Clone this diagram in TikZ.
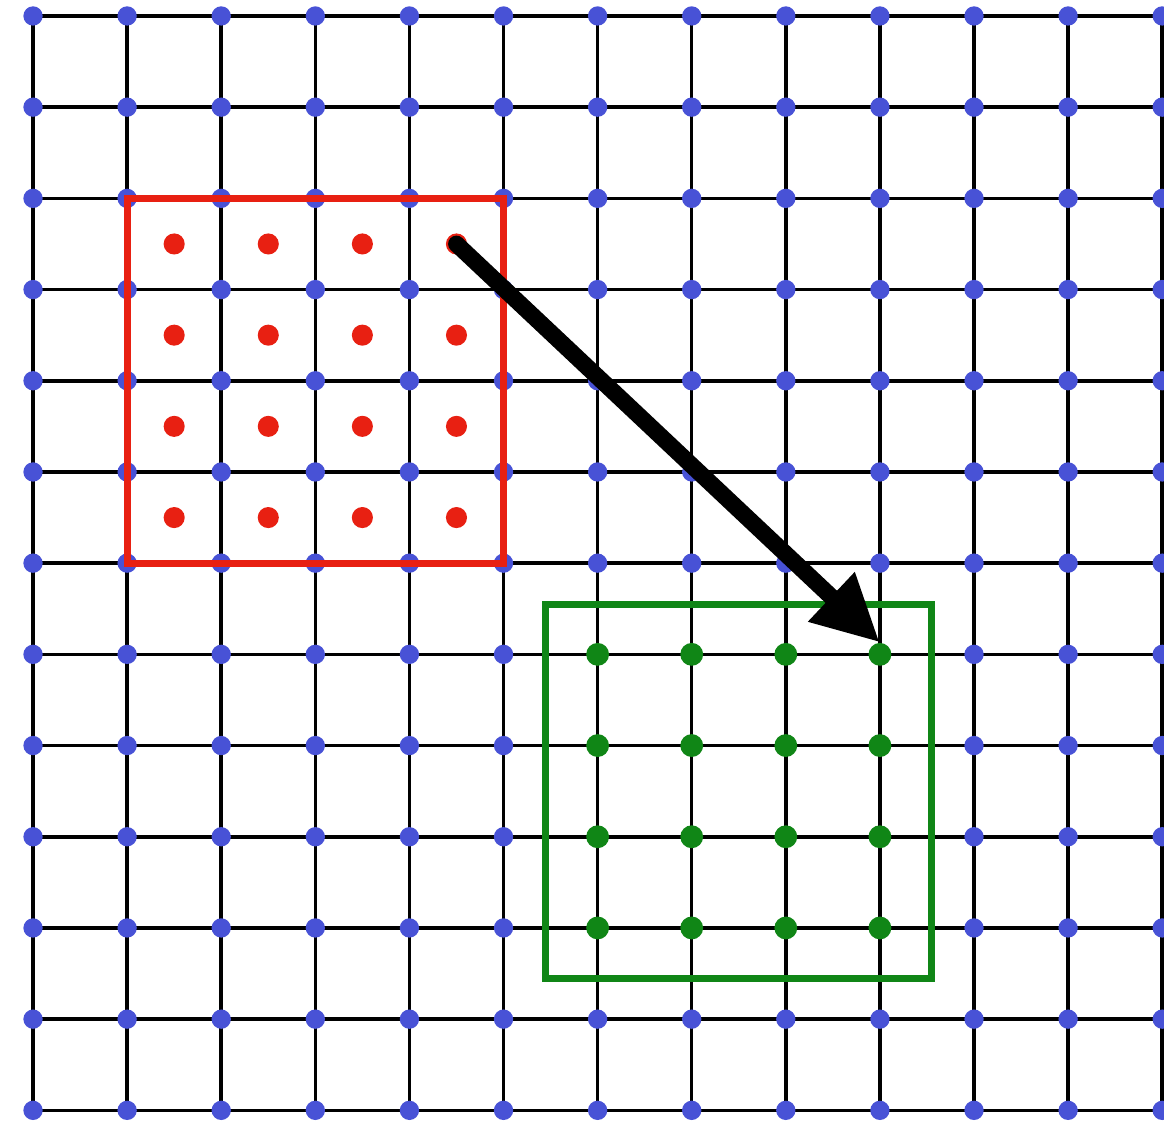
\documentclass[tikz,border=0pt]{standalone}
\usetikzlibrary{arrows.meta}

\definecolor{dotblue}{RGB}{72,82,214}
\definecolor{boxred}{RGB}{232,32,18}
\definecolor{boxgreen}{RGB}{16,134,22}

\tikzset{
  gridline/.style={line width=2pt, black},
  reddot/.style={circle, fill=boxred, inner sep=0pt, minimum size=12pt},
  greendot/.style={circle, fill=boxgreen, inner sep=0pt, minimum size=13pt},
}

\begin{document}
\begin{tikzpicture}[x=1.882cm, y=-1.824cm]

  % --- 1. frame ---
  \useasboundingbox (-0.351,-0.175) rectangle (12.019,12.171);
  \clip (-0.351,-0.175) rectangle (12.019,12.171);

  % --- 2. grid lines and lattice points ---
  \foreach \k in {0,...,12} {
    \draw[gridline] (0,\k) -- (12.2,\k);
    \draw[gridline] (\k,0) -- (\k,12);
  }
  \foreach \i in {0,...,12}
    \foreach \j in {0,...,12}
      \fill[dotblue] (\i,\j) circle (5.5pt);

  % --- 3. red block: points at the cell centres ---
  \draw[boxred, line width=4pt] (1,2) rectangle (5,6);
  \foreach \i in {1,...,4}
    \foreach \j in {1,...,4}
      \node[reddot] (r-\i-\j) at (\i+0.5, \j+1.5) {};

  % --- 4. green block: points on the lattice ---
  \draw[boxgreen, line width=4pt] (5.45,6.45) rectangle (9.55,10.55);
  \foreach \i in {1,...,4}
    \foreach \j in {1,...,4}
      \node[greendot] (g-\i-\j) at (\i+5, \j+6) {};

  % --- 5. arrow ---
  \draw[-{Triangle[length=38pt, width=36pt]}, line width=9.5pt, line cap=round]
    (r-4-1.center) -- (g-4-1.north);

\end{tikzpicture}
\end{document}
